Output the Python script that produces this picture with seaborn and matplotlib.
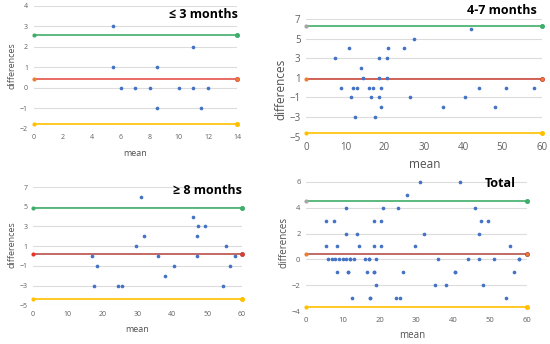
import numpy as np
import pandas as pd
import matplotlib
matplotlib.use("Agg")
import matplotlib.pyplot as plt
import seaborn as sns

# Data: mean vs difference for each age group
early_mean = [5.5, 5.5, 6, 7, 8, 8.5, 8.5, 10, 11, 11, 11.5, 12]
early_diff = [3, 1, 0, 0, 0, 1, -1, 0, 2, 0, -1, 0]

mid_mean = [7.5, 9, 11, 11.5, 12, 13, 12.5, 14, 14.5, 16, 17, 16.5, 17.5,
            18.5, 18.5, 18.5, 19, 19, 20.5, 20.5, 21, 25, 26.5, 27.5, 35,
            40.5, 42, 44, 48, 51, 58]
mid_diff = [3, 0, 4, -1, 0, 0, -3, 2, 1, 0, 0, -1, -3,
            3, 1, -1, 0, -2, 3, 1, 4, 4, -1, 5, -2,
            -1, 6, 0, -2, 0, 0]

late_mean = [17, 17.5, 18.5, 24.5, 25.5, 29.5, 31, 32, 36, 38, 40.5, 46,
             47, 47, 47.5, 49.5, 54.5, 55.5, 56.5, 58]
late_diff = [0, -3, -1, -3, -3, 1, 6, 2, 0, -2, -1, 4,
             2, 0, 3, 3, -3, 1, -1, 0]

total_mean = early_mean + mid_mean + late_mean
total_diff = early_diff + mid_diff + late_diff

# limits of agreement (upper, bias, lower)
early_loa = [2.6, 0.42, -1.76]
mid_loa = [6.3, 0.85, -4.65]
late_loa = [4.85, 0.22, -4.4]
total_loa = [4.52, 0.44, -3.69]

titles = ["\u2264 3 months", "4-7 months", "\u2265 8 months", "Total"]

sns.set_theme(style="white")
plt.rcParams["font.family"] = ["Open Sans", "DejaVu Sans"]

fig = plt.figure(figsize=(5.5, 3.44), dpi=100)

# panel layout in pixels: left, top, right, bottom
boxes = [(33.5, 6, 237, 128.7), (306, 19, 541.7, 136.7),
         (33, 187, 242, 305.3), (306, 170, 526.7, 311.3)]

panels = [
    dict(x=early_mean, y=early_diff, loa=early_loa, xlim=(0, 14), ylim=(-2, 4),
         xt=np.arange(0, 15, 2), yt=np.arange(-2, 5, 1), tick=5, lab=6.5,
         red="#E6524A", redm="#ED7D31", gl="#3FAE6A", ylp=(12, 66), xlp=(135, 153)),
    dict(x=mid_mean, y=mid_diff, loa=mid_loa, xlim=(0, 60), ylim=(-5, 7),
         xt=np.arange(0, 61, 10), yt=np.arange(-5, 8, 2), tick=7, lab=8.5,
         red="#CC4A3E", redm="#ED7D31", gl="#A5A5A5", ylp=(281, 89), xlp=(425, 165)),
    dict(x=late_mean, y=late_diff, loa=late_loa, xlim=(0, 60), ylim=(-5, 7),
         xt=np.arange(0, 61, 10), yt=np.arange(-5, 8, 2), tick=5, lab=6.5,
         red="#B9504A", redm="#E8362B", gl="#3FAE6A", ylp=(12, 245), xlp=(137, 329)),
    dict(x=total_mean, y=total_diff, loa=total_loa, xlim=(0, 60), ylim=(-4, 6.9),
         xt=np.arange(0, 61, 10), yt=np.arange(-4, 7, 2), tick=5.5, lab=7,
         red="#B5524C", redm="#ED7D31", gl="#A5A5A5", ylp=(284, 242), xlp=(412, 336)),
]

title_pos = [(238, 14), (537, 10), (242, 191), (516, 184)]

W, H = 550, 344
for p, box, title, tp in zip(panels, boxes, titles, title_pos):
    l, t, r, b = box
    ax = fig.add_axes([l / W, 1 - b / H, (r - l) / W, (b - t) / H])
    ax.set_xlim(p["xlim"])
    ax.set_ylim(p["ylim"])
    ax.set_yticks(p["yt"])
    ax.set_xticks(p["xt"])
    ax.grid(axis="y", color="#DCDCDC", linewidth=0.8)
    ax.set_axisbelow(True)
    for s in ax.spines.values():
        s.set_visible(False)
    ax.tick_params(length=0, labelsize=p["tick"], colors="#606060", pad=4)

    x0, x1 = p["xlim"]
    up, bias, low = p["loa"]
    lines = [(up, "#3FAE6A", p["gl"], "#3FAE6A"),
             (bias, p["red"], p["redm"], p["redm"]),
             (low, "#FFC000", "#FFC000", "#FFC000")]
    for val, lc, mleft, mright in lines:
        sns.lineplot(x=[x0, x1], y=[val, val], ax=ax, color=lc, linewidth=1.2,
                     clip_on=False, zorder=3)
        ax.scatter([x0], [val], s=9, color=mleft, linewidth=0, zorder=4, clip_on=False)
        ax.scatter([x1], [val], s=9, color=mright, edgecolor=lc, linewidth=0.6,
                   zorder=4, clip_on=False)

    df = pd.DataFrame({"mean": p["x"], "differences": p["y"]})
    sns.scatterplot(data=df, x="mean", y="differences", ax=ax, color="#4472C4",
                    s=7, linewidth=0, zorder=5, clip_on=False)
    ax.set_xlabel("")
    ax.set_ylabel("")

    fig.text(p["ylp"][0] / W, 1 - p["ylp"][1] / H, "differences", rotation=90,
             ha="center", va="center", fontsize=p["lab"], color="#505050")
    fig.text(p["xlp"][0] / W, 1 - p["xlp"][1] / H, "mean",
             ha="center", va="center", fontsize=p["lab"], color="#505050")
    fig.text(tp[0] / W, 1 - tp[1] / H, title, ha="right", va="center",
             fontsize=9, fontweight="bold", color="black")

fig.savefig("out.png", dpi=100)
